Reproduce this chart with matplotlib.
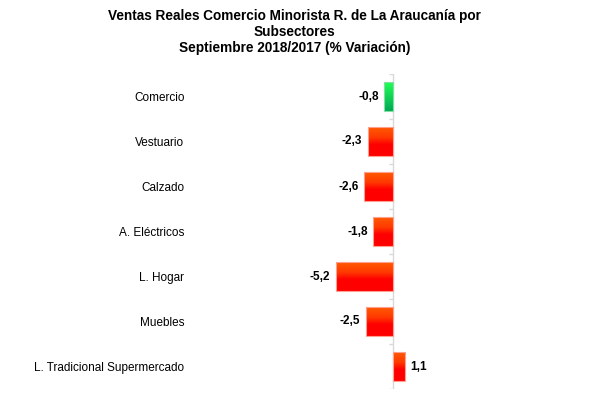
import numpy as np
import matplotlib.pyplot as plt
from matplotlib.colors import LinearSegmentedColormap

categories = ['Comercio', 'Vestuario', 'Calzado', 'A. Eléctricos',
              'L. Hogar', 'Muebles', 'L. Tradicional Supermercado']
values = [-0.8, -2.3, -2.6, -1.8, -5.2, -2.5, 1.1]
value_labels = ['-0,8', '-2,3', '-2,6', '-1,8', '-5,2', '-2,5', '1,1']

plt.rcParams['font.family'] = ['Liberation Sans', 'DejaVu Sans']

red_cmap = LinearSegmentedColormap.from_list(
    'red', [(0, '#FF5A00'), (0.35, '#FF3A00'), (0.6, '#FF0000'), (1, '#FF0000')])
green_cmap = LinearSegmentedColormap.from_list(
    'green', [(0, '#22FF55'), (1, '#00A855')])

fig = plt.figure(figsize=(5.89, 3.98), dpi=100)
W, H = 589, 398
ax = fig.add_axes([190 / W, 1 - 389 / H, 370 / W, 315 / H])

px_per_unit = 11.0
x0 = -(393 - 190) / px_per_unit
ax.set_xlim(x0, x0 + 370 / px_per_unit)
ax.set_ylim(len(categories) - 0.5, -0.5)

y = np.arange(len(categories))
bars = ax.barh(y, values, height=0.64, color='none', edgecolor='none')

grad = np.linspace(0, 1, 100).reshape(-1, 1)
for b, v in zip(bars, values):
    cmap = green_cmap if v > -1 and v < 0 else red_cmap
    x, yy = b.get_x(), b.get_y()
    w, h = b.get_width(), b.get_height()
    im = ax.imshow(grad, cmap=cmap, aspect='auto',
                   extent=[x, x + w, yy + h, yy], origin='upper', zorder=2)
    im.set_clip_path(b)
    edge = '#FFA090' if cmap is red_cmap else '#80E0A0'
    ax.add_patch(plt.Rectangle((x, yy), w, h, fill=False, edgecolor=edge,
                               linewidth=0.8, zorder=3))

for yi, v, lab in zip(y, values, value_labels):
    if v < 0:
        ax.text(v - 0.5, yi, lab, ha='right', va='center',
                fontsize=8.5, fontweight='bold')
    else:
        ax.text(v + 0.45, yi, lab, ha='left', va='center',
                fontsize=8.5, fontweight='bold')

# axis line at zero with small ticks between categories
ax.axvline(0, color='#D9D9D9', linewidth=1, zorder=1)
bounds = np.arange(-0.5, len(categories) + 0.5, 1)
ax.hlines(bounds, -0.35, 0, color='#D9D9D9', linewidth=1, zorder=1)

ax.set_yticks(y)
ax.set_yticklabels(categories, fontsize=8.5)
ax.tick_params(axis='y', length=0, pad=4)
ax.set_xticks([])
for s in ax.spines.values():
    s.set_visible(False)

fig.text(0.5, 1 - 9 / H,
         'Ventas Reales Comercio Minorista R. de La Araucanía por\nSubsectores\nSeptiembre 2018/2017 (% Variación)',
         ha='center', va='top', fontsize=9.8, fontweight='bold', linespacing=1.2)

fig.savefig('out.png', dpi=100)
